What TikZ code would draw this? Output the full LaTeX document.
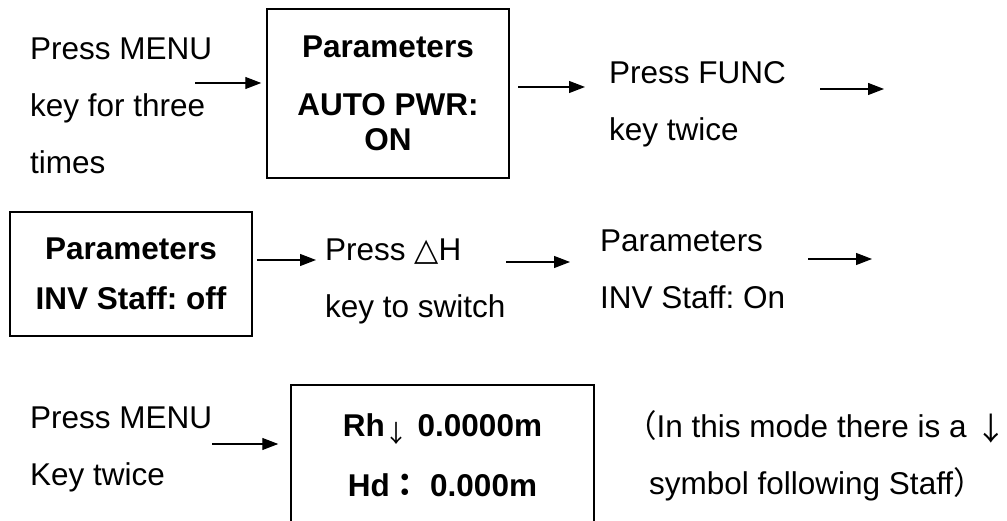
\documentclass[tikz,border=0pt]{standalone}
\usepackage{fontspec}
\setmainfont{Liberation Sans}
\newfontfamily\cjkfont{Noto Sans CJK TC}
\newfontfamily\trifont{DejaVu Sans}
\usetikzlibrary{arrows.meta}
\frenchspacing

\begin{document}
\begin{tikzpicture}[x=1pt, y=1pt,
    keytext/.style={anchor=north west, inner sep=0pt, align=left, font=\fontsize{31.5}{57}\selectfont, execute at begin node={\rule{0pt}{28pt}}},
    screen/.style={draw, rectangle, line width=1.5pt, inner sep=0pt, align=center, font=\fontsize{31.5}{50}\selectfont\bfseries},
    flow/.style={-{Triangle[length=16pt, width=12pt]}, line width=1.2pt}]
    \useasboundingbox (0,0) rectangle (1007,521);
    \clip (0,0) rectangle (1007,521);

    % Nodes
    \node (menu1) [keytext] at (30,483) {Press MENU\\key for three\\times};
    \node (autopwr) [screen, minimum width=242pt, minimum height=169pt, font=\fontsize{31.5}{35}\selectfont\bfseries] at (388,427.5) {Parameters\\[23pt]AUTO PWR:\\ON};
    \node (func) [keytext] at (609,460) {Press FUNC\\key twice};
    \node (invoff) [screen, minimum width=242pt, minimum height=124pt] at (131,247) {Parameters\\INV Staff: off};
    \node (switch) [keytext] at (325,282) {Press {\trifont △}H\\key to switch};
    \node (invon) [keytext] at (600,291) {Parameters\\INV Staff: On};
    \node (menu2) [keytext] at (30,114) {Press MENU\\Key twice};
    \node (staff) [screen, minimum width=303pt, minimum height=140pt, font=\fontsize{31.5}{60}\selectfont\bfseries] at (442.5,66) {Rh{\cjkfont\mdseries\raisebox{-6pt}{\fontsize{24}{24}\selectfont ↓}} 0.0000m\\Hd{\cjkfont ：} 0.000m};
    \node (note) [keytext] at (625,111) {{\cjkfont （}In this mode there is a {\cjkfont\raisebox{-3pt}{↓}}\\\hspace*{24pt}symbol following Staff{\cjkfont ）}};

    % Edges
    \coordinate (a1) at (195,438);
    \coordinate (a2) at (518,434);
    \coordinate (a3) at (884,432);
    \coordinate (a4) at (256,261);
    \coordinate (a5) at (506,259);
    \coordinate (a6) at (872,262);
    \coordinate (a7) at (212,77);
    \draw[flow, shorten >=5pt] (a1) -- (autopwr.west |- a1);
    \draw[flow, shorten >=24pt] (a2) -- (func.west |- a2);
    \draw[flow, shorten <=34pt] (func.east |- a3) -- (a3);
    \draw[flow, shorten <=4pt, shorten >=9pt] (invoff.east |- a4) -- (switch.west |- a4);
    \draw[flow, shorten >=30pt] (a5) -- (invon.west |- a5);
    \draw[flow, shorten <=23pt] (invon.east |- a6) -- (a6);
    \draw[flow, shorten >=12pt] (a7) -- (staff.west |- a7);
\end{tikzpicture}
\end{document}
